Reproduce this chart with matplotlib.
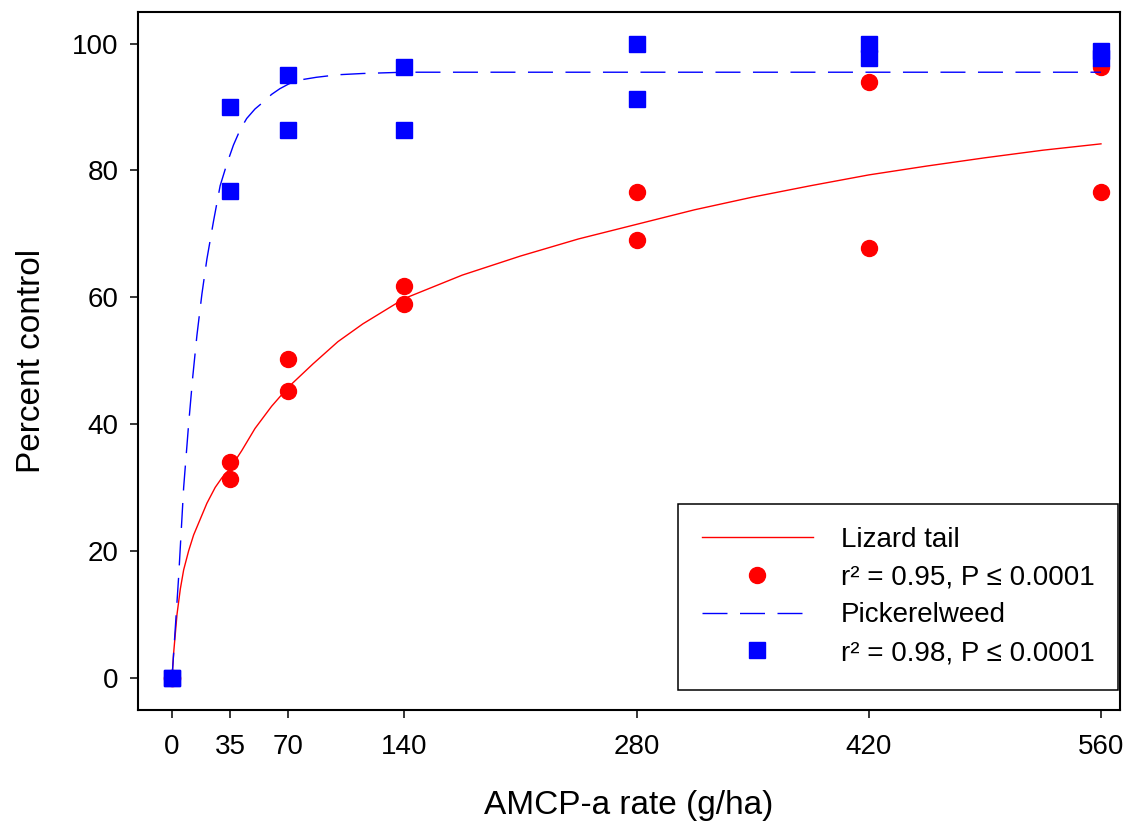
import numpy as np
import matplotlib
matplotlib.use("Agg")
import matplotlib.pyplot as plt
from matplotlib import font_manager

matplotlib.rcParams.update(
    {
        "font.family": ["Liberation Sans", "DejaVu Sans"],
        "axes.linewidth": 1.5,
    }
)

# observed data (two replicates per rate)
lizard_x = [0, 0, 35, 35, 70, 70, 140, 140, 280, 280, 420, 420, 560, 560]
lizard_y = [0, 0, 34.0, 31.4, 50.2, 45.2, 61.8, 58.9, 76.6, 69.0, 94.0, 67.8, 96.4, 76.6]

pickerel_x = [0, 0, 35, 35, 70, 70, 140, 140, 280, 280, 420, 420, 560, 560]
pickerel_y = [0, 0, 90.0, 76.8, 95.1, 86.4, 96.4, 86.4, 100.0, 91.3, 99.9, 97.7, 98.8, 97.7]

# fitted curves
lizard_fit_x = [0, 1, 3, 5, 7, 10, 13, 17, 21, 26, 30, 35, 42, 50, 60, 70, 85,
                100, 115, 140, 175, 210, 245, 280, 315, 350, 385, 420, 455,
                490, 525, 560]
lizard_fit_y = [0, 4, 10, 14, 17, 20, 22.5, 25, 27.5, 30, 31.5, 33, 35.8, 39.3,
                42.8, 45.8, 49.5, 53, 55.8, 59.8, 63.5, 66.5, 69.2, 71.5, 73.8,
                75.8, 77.6, 79.3, 80.7, 82, 83.2, 84.2]

pickerel_fit_x = [0, 1, 2, 4, 7, 10, 12.5, 15, 18, 21, 25, 29, 33, 37, 41, 45,
                  50, 55, 60, 65, 70, 75, 80, 87, 100, 115, 140, 210, 280, 420, 560]
pickerel_fit_y = [0, 4, 8, 16, 30, 40, 47.5, 54, 60.5, 66, 72, 77.6, 81, 84,
                  86.4, 88.2, 89.7, 90.8, 92, 92.9, 93.6, 94.2, 94.4, 94.7, 95.1,
                  95.3, 95.5, 95.5, 95.5, 95.5, 95.5]

x_ticks = [0, 35, 70, 140, 280, 420, 560]
y_ticks = [0, 20, 40, 60, 80, 100]

fig = plt.figure(figsize=(11.25, 8.27), dpi=100)
ax = fig.add_axes([0.1227, 0.1415, 0.8729, 0.844])

ax.plot(lizard_fit_x, lizard_fit_y, color="#ff0000", linewidth=1.0,
        label="Lizard tail", zorder=2)
ax.plot(lizard_x, lizard_y, "o", color="#ff0000", markersize=11.5,
        linestyle="none", label="r\u00b2 = 0.95, P \u2264 0.0001", zorder=3)
ax.plot(pickerel_fit_x, pickerel_fit_y, color="#0000ff", linewidth=1.0,
        linestyle=(0, (18, 9)), label="Pickerelweed", zorder=4)
ax.plot(pickerel_x, pickerel_y, "s", color="#0000ff", markersize=12,
        linestyle="none", label="r\u00b2 = 0.98, P \u2264 0.0001", zorder=5)

ax.set_xlim(-20.5, 571.5)
ax.set_ylim(-5.1, 105)
ax.set_xticks(x_ticks)
ax.set_yticks(y_ticks)
ax.tick_params(axis="both", direction="out", length=6, width=1.1)
ax.tick_params(axis="y", labelsize=20, pad=8)
ax.tick_params(axis="x", labelsize=20, pad=11)

# x tick labels are condensed in the original
names = set(f.name for f in font_manager.fontManager.ttflist)
if "Liberation Sans Narrow" in names:
    for lab in ax.get_xticklabels():
        lab.set_family("Liberation Sans Narrow")
else:
    for lab in ax.get_xticklabels():
        lab.set_fontstretch("condensed")

ax.set_xlabel("AMCP-a rate (g/ha)", fontsize=24, labelpad=22)
ax.set_ylabel("Percent control", fontsize=24, labelpad=18)

leg = ax.legend(
    loc="lower right",
    bbox_to_anchor=(0.998, 0.029),
    borderaxespad=0,
    prop={"size": 20},
    handlelength=4.0,
    handletextpad=1.0,
    labelspacing=0.42,
    borderpad=0.85,
    fancybox=False,
    framealpha=1,
    numpoints=1,
)
leg.get_frame().set_edgecolor("black")
leg.get_frame().set_linewidth(1.1)

plt.savefig("out.png", dpi=100)
